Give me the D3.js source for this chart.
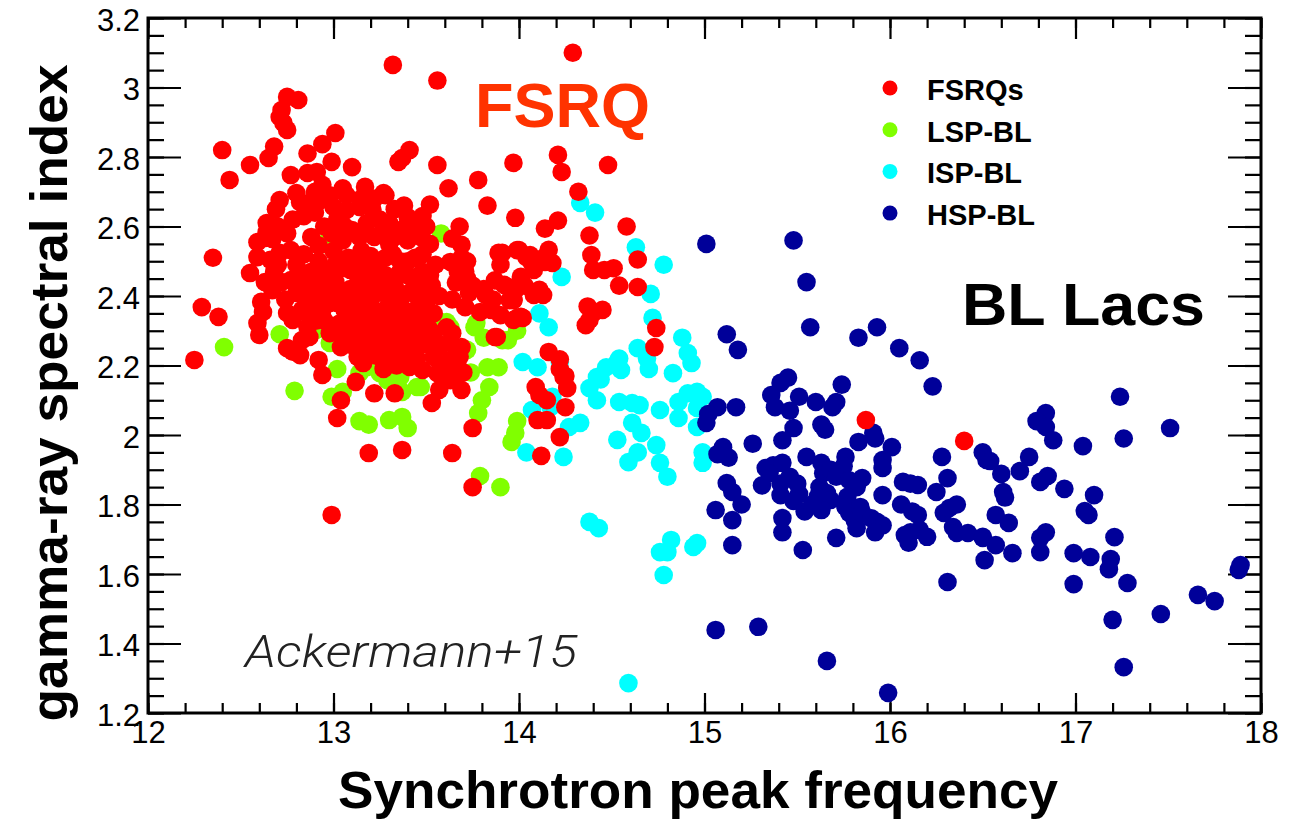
<!DOCTYPE html>
<html><head><meta charset="utf-8">
<script src="https://cdn.jsdelivr.net/npm/d3@7"></script>
<style>
html,body{margin:0;padding:0;background:#fff;}
svg{display:block;}
</style></head>
<body>
<svg id="chart" width="1299" height="819"></svg>
<script>
// ---------- data ----------
const xTicks = [12, 13, 14, 15, 16, 17, 18];
const yTicks = [1.2, 1.4, 1.6, 1.8, 2.0, 2.2, 2.4, 2.6, 2.8, 3.0, 3.2];
const seriesNames = ["FSRQs", "LSP-BL", "ISP-BL", "HSP-BL"];
const seriesColors = ["#ff0000", "#80ff00", "#00ffff", "#000099"];

const fsrq = [
[13.32,3.065],[13.56,3.02],[14.29,3.10],
[12.75,2.973],[12.81,2.964],[12.72,2.935],[12.71,2.915],[12.73,2.898],[12.75,2.878],
[13.01,2.869],[12.40,2.82],[12.68,2.83],[12.65,2.797],[12.94,2.837],[12.86,2.81],[12.99,2.786],
[12.55,2.777],[12.44,2.734],[12.77,2.748],[12.86,2.754],[12.91,2.757],[12.94,2.72],[13.10,2.771],
[13.05,2.71],[13.17,2.714],[13.27,2.696],[13.35,2.786],[13.41,2.82],[13.37,2.797],[13.56,2.777],
[13.78,2.734],[13.97,2.783],[14.21,2.806],[14.23,2.757],[14.48,2.777],[14.32,2.70],[13.83,2.66],
[13.52,2.663],[13.98,2.625],[14.58,2.60],[14.38,2.574],[14.14,2.594],[14.21,2.617],[14.64,2.505],
[14.00,2.532],[14.06,2.518],[14.14,2.498],[14.16,2.533],[14.39,2.518],[14.40,2.475],[14.46,2.475],[14.51,2.48],[14.54,2.43],
[13.90,2.49],[13.87,2.445],[14.03,2.43],[14.11,2.418],[14.37,2.37],[14.36,2.316],[14.38,2.331],[14.40,2.351],
[13.63,2.498],[13.71,2.47],[13.66,2.438],[13.82,2.403],[13.95,2.388],[13.99,2.337],[13.64,2.39],
[14.16,2.239],[14.22,2.218],[14.74,2.308],[14.73,2.253],[14.24,2.167],[14.26,2.135],[14.09,2.138],[14.11,2.115],
[14.15,2.10],[14.15,2.043],[14.25,2.08],[14.10,2.043],[14.22,1.994],[14.12,1.94],
[13.75,1.85],[13.64,1.948],[13.37,1.957],[13.19,1.948],[12.99,1.77],[13.02,2.049],[13.04,2.10],[13.22,2.12],[13.33,2.12],
[13.53,2.092],[13.69,2.181],[13.63,2.158],[13.57,2.13],[13.69,2.13],[13.75,2.02],
[12.25,2.216],[12.29,2.368],[12.38,2.34],[12.35,2.51],[12.59,2.322],[12.60,2.288],[12.61,2.383],[12.55,2.466],[12.63,2.567],[12.59,2.512],
[12.77,2.245],[12.82,2.23],[12.62,2.354],[12.67,2.417],[12.75,2.351],[12.78,2.331],[12.78,2.24],[12.75,2.25],
[12.92,2.216],[12.94,2.173],[13.12,2.153],[13.63,2.216],[13.67,2.196],[13.87,2.282],[13.97,2.388],[14.02,2.337],[13.94,2.426],
[12.87,2.282],[12.83,2.273],[12.86,2.31],[12.91,2.33],[12.98,2.293],[13.04,2.253],[13.06,2.273],[13.16,2.207],[13.18,2.236],[13.13,2.225],
[13.27,2.273],[13.34,2.236],[13.41,2.196],[13.48,2.187],[13.56,2.178],[13.59,2.196],[13.56,2.265],[13.63,2.265],[13.69,2.253],[13.64,2.293],
[13.73,2.409],[13.79,2.354],[13.85,2.36],[13.71,2.368],[13.88,2.282],[13.90,2.345],[13.97,2.331],[14.01,2.34],
[13.28,2.69],[13.62,2.71],[13.68,2.60],[13.69,2.547],[13.69,2.51],[13.89,2.524],
[12.64,2.61],[12.59,2.555],[12.64,2.584],[12.67,2.564],[12.66,2.504],[12.71,2.524],[12.77,2.532],
[12.77,2.446],[12.80,2.409],[12.86,2.389],[12.91,2.409],
[12.71,2.676],[12.80,2.696],[12.87,2.668],[12.93,2.676],[13.00,2.656],[13.07,2.648],
[13.14,2.656],[13.21,2.648],[13.25,2.62],[13.30,2.61],[13.40,2.627],[13.41,2.60],[13.43,2.58],
[13.91,2.524],[13.99,2.532],[14.04,2.512],[14.07,2.495],[14.13,2.509],[14.18,2.495],
[13.92,2.432],[13.98,2.417],[13.97,2.389],[14.08,2.403],[14.13,2.403],[14.01,2.455],[14.08,2.475],
[14.45,2.36],[14.64,2.426],
[12.95,2.60],[13.02,2.62],[13.10,2.59],[13.18,2.61],[13.36,2.59],[13.47,2.57],[13.52,2.55],[12.88,2.57],[13.05,2.56],[13.22,2.57],[13.30,2.55],
[12.84,2.52],[12.92,2.50],[13.00,2.53],[13.08,2.51],[13.15,2.53],[13.24,2.50],[13.32,2.52],[13.40,2.50],[13.48,2.52],[13.55,2.49],
[12.88,2.47],[12.97,2.46],[13.05,2.48],[13.13,2.46],[13.20,2.47],[13.28,2.46],[13.36,2.47],[13.44,2.45],[13.52,2.46],
[12.85,2.43],[12.93,2.42],[13.01,2.44],[13.09,2.42],[13.17,2.43],[13.25,2.41],[13.33,2.43],[13.41,2.41],[13.49,2.42],[13.57,2.40],
[12.90,2.37],[12.98,2.38],[13.06,2.36],[13.14,2.38],[13.22,2.36],[13.30,2.38],[13.38,2.36],[13.46,2.37],[13.54,2.35],
[12.95,2.33],[13.03,2.32],[13.11,2.34],[13.19,2.32],[13.27,2.33],[13.35,2.31],[13.43,2.33],[13.51,2.31],
[13.08,2.28],[13.16,2.27],[13.24,2.29],[13.32,2.27],[13.40,2.28],[13.48,2.26],
[13.22,2.23],[13.30,2.21],[13.38,2.24],[13.45,2.22],[13.27,2.19],
[12.68,2.47],[12.72,2.44],[12.63,2.44],[13.48,2.63],[13.50,2.60],[13.64,2.565],
[13.72,2.45],[13.75,2.43],[13.81,2.42],[13.86,2.39],[13.61,2.31],[13.68,2.225],[13.64,2.19],[13.70,2.18],
[13.54,2.293],[13.57,2.253],[13.54,2.225],[13.47,2.36],[13.50,2.38],[13.45,2.40],[13.67,2.47],[13.72,2.50],
[14.22,2.19],[14.25,2.17],
[12.99,2.58],[13.06,2.60],[13.14,2.57],[13.26,2.58],[13.33,2.57],[13.40,2.56],[12.92,2.545],[13.12,2.50],[13.20,2.515],
[13.28,2.51],[13.36,2.50],[13.44,2.51],[12.80,2.49],[12.93,2.475],[13.01,2.49],[13.09,2.475],[13.17,2.49],[13.24,2.45],
[13.32,2.45],[13.40,2.46],[13.48,2.47],[12.81,2.45],[12.89,2.435],[12.97,2.42],[13.05,2.41],[13.13,2.405],[13.21,2.40],
[13.29,2.41],[13.37,2.40],[13.45,2.43],[13.53,2.43],[12.86,2.35],[12.94,2.36],[13.02,2.38],[13.10,2.37],[13.18,2.36],
[13.26,2.35],[13.34,2.35],[13.42,2.35],[13.50,2.34],[12.99,2.31],[13.07,2.31],[13.15,2.30],[13.23,2.31],[13.31,2.30],
[13.39,2.31],[13.47,2.30],[13.12,2.25],[13.20,2.26],[13.28,2.25],[13.36,2.26],[13.44,2.25],[13.26,2.22],[13.34,2.20],
[12.70,2.60],[12.75,2.58],[12.70,2.49],[12.78,2.62],[12.84,2.63],[12.90,2.64],[12.74,2.39],[12.83,2.36],
[12.69,2.65],[12.82,2.67],[12.90,2.70],[12.98,2.69],[13.07,2.69],[13.15,2.68],[13.22,2.68],[13.33,2.65],[13.38,2.66],
[15.87,2.043],[16.40,1.983]
];

const lsp = [
[12.41,2.253],[12.71,2.29],[12.79,2.127],[13.02,2.19],[12.99,2.11],[13.05,2.124],[13.14,2.04],[13.19,2.03],[13.30,2.043],[13.37,2.052],[13.40,2.02],
[13.14,2.178],[13.27,2.178],[13.32,2.167],[13.37,2.124],[13.47,2.138],[13.61,2.325],[13.72,2.245],[13.74,2.18],[13.76,2.31],[13.81,2.28],
[13.83,2.195],[13.89,2.195],[13.84,2.138],[13.80,2.10],[13.78,2.063],[13.94,2.273],[13.99,2.30],[13.99,2.04],[13.98,2.006],[13.96,1.98],
[13.79,1.882],[13.90,1.85],[12.98,2.265],[13.58,2.58],[12.95,2.55],[12.98,2.455],[13.77,2.322],[13.91,2.273],[13.59,2.322],[13.63,2.31],
[13.67,2.236],[13.18,2.195],[13.25,2.178],[13.29,2.158],[13.36,2.167],[13.45,2.138],[13.56,2.33],[13.48,2.31],[13.10,2.36],[12.90,2.30]
];

const isp = [
[14.64,2.25],[14.69,2.22],[14.70,2.19],[14.88,2.28],[14.91,2.236],[14.93,2.207],[14.54,2.22],[14.55,2.187],[14.47,2.195],[14.42,2.167],[14.38,2.135],[14.42,2.10],
[14.83,2.178],[14.54,2.095],[14.61,2.092],[14.65,2.086],[14.76,2.072],[14.86,2.095],[14.91,2.12],[14.96,2.124],[14.99,2.11],[14.86,2.049],[14.96,2.078],[14.96,2.023],
[14.61,2.035],[14.66,2.006],[14.53,1.986],[14.74,1.971],[14.64,1.95],[14.59,1.922],[14.76,1.92],[14.80,1.88],[14.99,1.95],[14.99,1.92],[14.33,2.035],[14.27,2.023],
[14.24,1.937],[14.38,1.75],[14.43,1.732],[14.82,1.698],[14.76,1.663],[14.78,1.597],[14.94,1.678],[14.96,1.689],[14.59,1.286],[14.80,1.663],
[14.33,2.668],[14.41,2.64],[14.63,2.54],[14.78,2.49],[14.23,2.455],[14.71,2.406],[14.72,2.337],[14.11,2.35],[14.16,2.31],[14.02,2.21],[14.10,2.195],[14.22,2.21],
[14.07,2.072],[14.17,2.08],[14.18,2.11],[14.04,1.95],[14.53,2.21],[14.44,2.16]
];

const hsp = [
[15.01,2.55],[15.48,2.56],[15.55,2.44],[15.57,2.31],[15.12,2.29],[15.18,2.245],[15.83,2.28],[15.93,2.31],[16.05,2.25],[16.16,2.215],[16.23,2.14],
[15.41,2.15],[15.45,2.165],[15.36,2.115],[15.38,2.08],[15.46,2.07],[15.51,2.11],[15.60,2.095],[15.74,2.145],[15.71,2.095],[15.69,2.08],[15.48,2.02],[15.42,1.985],[15.63,2.03],[15.65,2.015],
[15.07,2.08],[15.02,2.06],[15.01,2.035],[15.17,2.08],[15.26,1.975],[15.10,1.965],[15.13,1.935],[15.07,1.945],
[15.33,1.905],[15.37,1.913],[15.42,1.92],[15.35,1.89],[15.31,1.855],[15.41,1.86],[15.46,1.88],[15.50,1.86],[15.51,1.83],[15.41,1.827],[15.48,1.81],[15.54,1.78],[15.55,1.937],
[15.63,1.92],[15.64,1.89],[15.68,1.90],[15.76,1.937],[15.75,1.91],[15.71,1.88],[15.62,1.85],[15.66,1.833],[15.68,1.813],[15.61,1.822],[15.63,1.784],[15.58,1.80],
[15.85,1.876],[15.78,1.87],[15.82,1.85],[15.77,1.822],[15.83,1.98],[15.91,2.006],[15.92,1.99],[16.01,1.965],[15.96,1.928],[15.96,1.905],[15.96,1.827],
[16.07,1.865],[16.15,1.856],[16.11,1.86],[16.25,1.836],[16.28,1.937],[16.31,1.876],[16.50,1.95],[16.52,1.928],
[15.76,1.793],[15.78,1.776],[15.84,1.793],[15.81,1.755],[15.82,1.732],[15.85,1.776],[15.90,1.76],[15.93,1.75],[15.96,1.74],[15.92,1.72],
[16.06,1.80],[16.12,1.78],[16.15,1.77],[16.08,1.712],[16.11,1.72],[16.16,1.727],[16.20,1.707],[16.10,1.69],
[16.29,1.776],[16.32,1.79],[16.36,1.80],[16.34,1.735],[16.36,1.718],[16.42,1.718],[16.50,1.707],[16.51,1.64],[16.31,1.577],
[15.42,1.761],[15.42,1.72],[15.53,1.669],[15.71,1.704],[15.06,1.784],[15.15,1.755],[15.20,1.80],[15.12,1.862],[15.15,1.836],[15.15,1.683],
[15.06,1.439],[15.29,1.448],[15.66,1.35],[15.99,1.258],
[17.24,2.11],[17.51,2.02],[16.84,2.063],[16.79,2.04],[16.84,2.023],[16.88,1.985],[17.04,1.968],[17.26,1.99],[16.54,1.925],[16.75,1.937],
[16.60,1.888],[16.70,1.896],[16.81,1.865],[16.85,1.882],[16.94,1.845],[17.10,1.827],[16.61,1.836],[16.62,1.82],[17.05,1.781],[17.07,1.77],
[16.57,1.77],[16.64,1.747],[16.50,1.704],[16.57,1.683],[16.66,1.66],[16.81,1.704],[16.84,1.72],[16.81,1.663],
[16.99,1.66],[17.08,1.649],[17.21,1.706],[17.19,1.643],[17.18,1.614],[16.99,1.571],[17.28,1.574],[17.66,1.54],[17.75,1.522],[17.46,1.485],[17.89,1.626],[17.88,1.612],[17.20,1.468],[17.26,1.332]
];

// ---------- layout ----------
const L = 148, R = 1261, T = 18, B = 713;
const svg = d3.select("#chart");
const x = d3.scaleLinear().domain([12, 18]).range([L, R]);
const y = d3.scaleLinear().domain([1.2, 3.2]).range([B, T]);
const font = "'Liberation Sans', Arial, Helvetica, sans-serif";

const xMinor = d3.range(12, 18.0001, 0.2).map(v => +v.toFixed(2));
const yMinor = d3.range(1.2, 3.2001, 0.05).map(v => +v.toFixed(2));
const fmt = d => String(+(+d).toFixed(1));

function styleAxis(g) {
  g.select(".domain").remove();
  g.selectAll("line").attr("stroke", "#000").attr("stroke-width", 2.2);
  g.selectAll("text").attr("font-family", font).attr("font-size", 31).attr("fill", "#000");
}

// bottom
svg.append("g").attr("transform", `translate(0,${B})`)
  .call(d3.axisBottom(x).tickValues(xMinor).tickSizeInner(-10).tickSizeOuter(0).tickFormat(""))
  .call(styleAxis);
svg.append("g").attr("transform", `translate(0,${B})`)
  .call(d3.axisBottom(x).tickValues(xTicks).tickSizeInner(-20).tickSizeOuter(0).tickPadding(8).tickFormat(fmt))
  .call(styleAxis);
// top
svg.append("g").attr("transform", `translate(0,${T})`)
  .call(d3.axisTop(x).tickValues(xMinor).tickSizeInner(-10).tickSizeOuter(0).tickFormat(""))
  .call(styleAxis);
svg.append("g").attr("transform", `translate(0,${T})`)
  .call(d3.axisTop(x).tickValues(xTicks).tickSizeInner(-21).tickSizeOuter(0).tickFormat(""))
  .call(styleAxis);
// left
svg.append("g").attr("transform", `translate(${L},0)`)
  .call(d3.axisLeft(y).tickValues(yMinor).tickSizeInner(-16).tickSizeOuter(0).tickFormat(""))
  .call(styleAxis);
const gl = svg.append("g").attr("transform", `translate(${L},0)`)
  .call(d3.axisLeft(y).tickValues(yTicks).tickSizeInner(-33).tickSizeOuter(0).tickPadding(8).tickFormat(fmt))
  .call(styleAxis);
gl.selectAll("text").attr("dy", "0.4em");
// right
svg.append("g").attr("transform", `translate(${R},0)`)
  .call(d3.axisRight(y).tickValues(yMinor).tickSizeInner(-16).tickSizeOuter(0).tickFormat(""))
  .call(styleAxis);
svg.append("g").attr("transform", `translate(${R},0)`)
  .call(d3.axisRight(y).tickValues(yTicks).tickSizeInner(-33).tickSizeOuter(0).tickFormat(""))
  .call(styleAxis);

// ---------- points ----------
const plot = svg.append("g");
const order = [[lsp, 1], [isp, 2], [hsp, 3], [fsrq, 0]];
order.forEach(([data, ci]) => {
  plot.append("g").selectAll("circle").data(data).join("circle")
    .attr("cx", d => x(d[0])).attr("cy", d => y(d[1])).attr("r", 9.3)
    .attr("fill", seriesColors[ci]);
});

// frame
svg.append("rect").attr("x", L).attr("y", T).attr("width", R - L).attr("height", B - T)
  .attr("fill", "none").attr("stroke", "#000").attr("stroke-width", 3);

// ---------- legend ----------
const leg = svg.append("g");
seriesNames.forEach((n, i) => {
  const cy = 88 + i * 41.7;
  leg.append("circle").attr("cx", 890).attr("cy", cy).attr("r", 7.5).attr("fill", seriesColors[i]);
  leg.append("text").attr("x", 927).attr("y", cy + 12).text(n)
    .attr("font-family", font).attr("font-weight", "bold").attr("font-size", 29).attr("fill", "#000");
});

// ---------- annotations ----------
svg.append("text").attr("x", 475).attr("y", 127).text("FSRQ")
  .attr("font-family", font).attr("font-weight", "bold").attr("font-size", 63).attr("fill", "#ff3300")
  .attr("textLength", 175).attr("lengthAdjust", "spacingAndGlyphs");
svg.append("text").attr("x", 962).attr("y", 325).text("BL Lacs")
  .attr("font-family", font).attr("font-weight", "bold").attr("font-size", 60).attr("fill", "#000")
  .attr("textLength", 243).attr("lengthAdjust", "spacingAndGlyphs");
svg.append("text").attr("x", 245).attr("y", 667).text("Ackermann+15")
  .attr("font-family", "Roboto, 'Liberation Sans', sans-serif").attr("font-weight", 300).attr("font-style", "italic")
  .attr("font-size", 45).attr("fill", "#222")
  .attr("textLength", 332).attr("lengthAdjust", "spacingAndGlyphs");

// axis titles
svg.append("text").attr("x", 698).attr("y", 808).attr("text-anchor", "middle")
  .text("Synchrotron peak frequency")
  .attr("font-family", font).attr("font-weight", "bold").attr("font-size", 52).attr("fill", "#000")
  .attr("textLength", 720).attr("lengthAdjust", "spacingAndGlyphs");
svg.append("text").attr("transform", "translate(67,393) rotate(-90)").attr("text-anchor", "middle")
  .text("gamma-ray spectral index")
  .attr("font-family", font).attr("font-weight", "bold").attr("font-size", 52).attr("fill", "#000")
  .attr("textLength", 657).attr("lengthAdjust", "spacingAndGlyphs");
</script>
</body></html>
